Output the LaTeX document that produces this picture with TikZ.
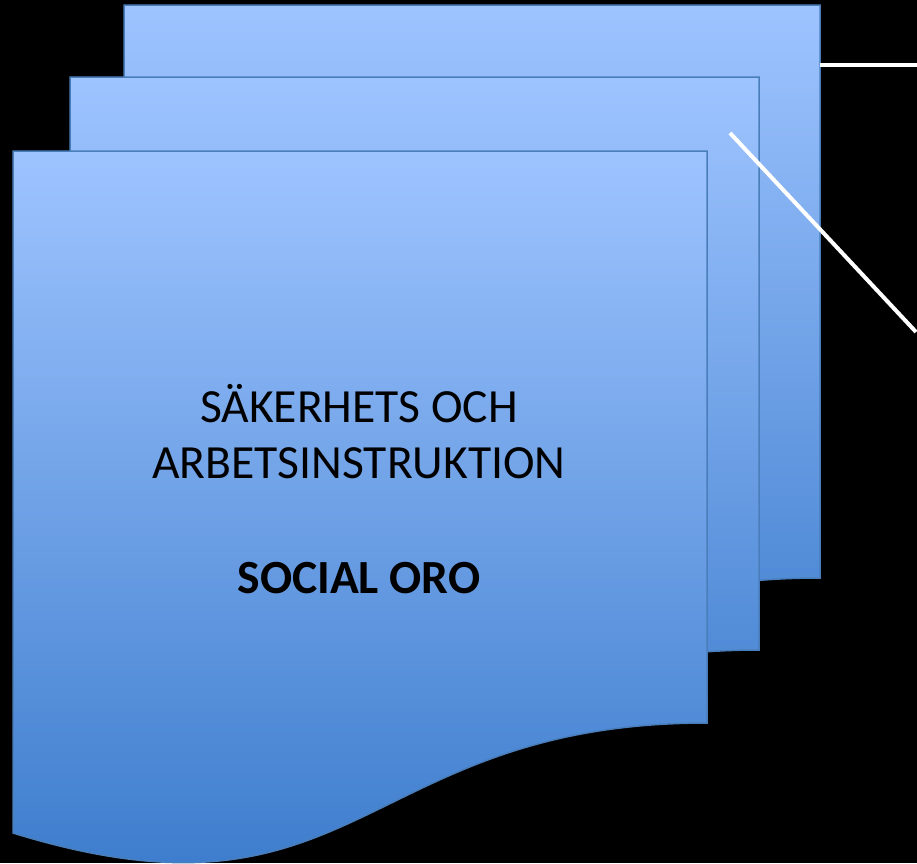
\documentclass[tikz,border=0pt]{standalone}
\usepackage{fontspec}
\setmainfont{Carlito}
\usepackage{tikz}
\definecolor{pagetop}{RGB}{158,196,255}
\definecolor{pagebottom}{RGB}{52,118,200}
\definecolor{pageline}{RGB}{74,126,187}

\begin{document}
\begin{tikzpicture}[x=1pt, y=-1pt, every node/.style={font=\fontsize{47.6}{57}\selectfont}]
      \fill[black] (0,0) rectangle (917,863);
      \useasboundingbox (0,0) rectangle (917,863);
      % pages, back to front
      \foreach \lx/\ty/\rx/\by in {124/5/820/578, 70/77/759/650, 13/151/707/723}{
      \draw[pageline, line width = 1.5pt, top color=pagetop, bottom color=pagebottom]
        (\lx,\ty) -- (\rx,\ty) -- (\rx,\by)
        .. controls ({(\lx+\rx)/2},\by) and ({(\lx+\rx)/2},{\by+217}) .. (\lx,{\by+110}) -- cycle;
      }
      \node (A) at (359,422)[anchor=base]{SÄKERHETS OCH};
      \node (B) at (359,478)[anchor=base]{ARBETSINSTRUKTION};
      \node (C) at (359,593)[anchor=base]{\bfseries SOCIAL ORO};
      \coordinate (H1) at (820,65);
      \coordinate (H2) at (917,65);
      \coordinate (D1) at (730,133);
      \coordinate (D2) at (916,332);
      \draw[white, line width = 4pt] (H1) -- (H2);
      \draw[white, line width = 4pt] (D1) -- (D2);
  \end{tikzpicture}
\end{document}
